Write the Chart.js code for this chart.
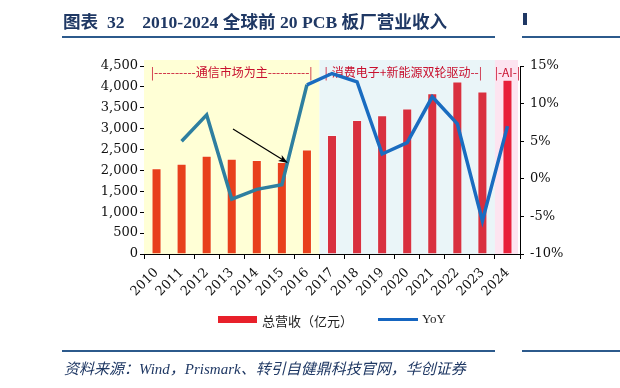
<!DOCTYPE html>
<html>
<head>
<meta charset="utf-8">
<script src="https://cdn.jsdelivr.net/npm/chart.js@4.4.1/dist/chart.umd.min.js"></script>
<style>
    body { margin: 0; background: #fff; }
    #wrap { position: relative; width: 620px; height: 388px; overflow: hidden; }
    #chart { position: absolute; left: 0; top: 0; }
    .title { position: absolute; left: 63px; top: 8px; font: bold 17.6px "Liberation Serif", "Noto Sans CJK SC", serif; color: #1F3864; white-space: pre; }
    .rule { position: absolute; height: 2px; background: #2C5A8C; }
    .source { position: absolute; left: 64px; top: 357px; font: italic 15px "Liberation Serif", "Noto Sans CJK SC", serif; color: #1F3864; white-space: pre; }
    .legend { position: absolute; top: 311px; font: 13px "Liberation Serif", "Noto Sans CJK SC", serif; color: #222; }
    .swatch { position: absolute; }
</style>
</head>
<body>
<div id="wrap">
    <canvas id="chart" width="620" height="388"></canvas>
    <div class="title">图表  32    2010-2024 全球前 20 PCB 板厂营业收入</div>
    <div class="rule" style="left:62px; top:36px; width:433px;"></div>
    <div class="rule" style="left:522px; top:36px; width:98px;"></div>
    <div class="rule" style="left:523px; top:13px; width:4px; height:12px; background:#1F3864;"></div>
    <div class="rule" style="left:62px; top:350px; width:433px;"></div>
    <div class="rule" style="left:522px; top:350px; width:98px;"></div>
    <div class="source">资料来源：Wind，Prismark、转引自健鼎科技官网，华创证券</div>
    <div class="swatch" style="left:218px; top:316px; width:39px; height:7px; background:#E8202A;"></div>
    <div class="legend" style="left:262px;">总营收（亿元）</div>
    <div class="swatch" style="left:378px; top:318px; width:40px; height:3px; background:#1565C0;"></div>
    <div class="legend" style="left:422px;">YoY</div>
</div>
<script>
const years = ['2010', '2011', '2012', '2013', '2014', '2015', '2016', '2017', '2018', '2019', '2020', '2021', '2022', '2023', '2024'];
const revenue = [2050, 2160, 2350, 2280, 2250, 2200, 2500, 2850, 3210, 3320, 3480, 3850, 4130, 3890, 4170];
const yoy = [null, 5.0, 8.5, -2.7, -1.4, -0.8, 12.5, 14.0, 12.9, 3.3, 4.8, 10.9, 7.3, -5.6, 7.0];

// phase bands: first and last category index, label, colours
const phaseLabels = ['|----------通信市场为主----------|', '|-消费电子+新能源双轮驱动--|', '|-AI-|'];
const phaseFrom = [0, 7, 14];
const phaseTo = [6, 13, 14];
const phaseFills = ['#FFFFD6', '#EAF5F8', '#FDE4F0'];
const phaseBars = ['#E8401C', '#D9303F', '#E8203A'];

// arrow annotation in data units: [category index, revenue]
const arrowFrom = [3.05, 2990];
const arrowTo = [5.24, 2180];

const barColors = years.map((y, i) => {
    let c = phaseBars[0];
    phaseFrom.forEach((f, k) => { if (i >= f && i <= phaseTo[k]) c = phaseBars[k]; });
    return c;
});

const serif = '"DejaVu Serif", "Liberation Serif", serif';

const phasePlugin = {
    id: 'phases',
    beforeDatasetsDraw(chart) {
        const ctx = chart.ctx;
        const x = chart.scales.x;
        const area = chart.chartArea;
        const step = x.width / years.length;
        ctx.save();
        phaseLabels.forEach((label, k) => {
            const left = x.getPixelForValue(phaseFrom[k]) - step / 2;
            const right = x.getPixelForValue(phaseTo[k]) + step / 2;
            ctx.fillStyle = phaseFills[k];
            ctx.fillRect(left, area.top - 6, right - left - (k === 2 ? 2 : 0), area.bottom - area.top + 6);
            ctx.fillStyle = '#C8102E';
            ctx.font = '12px "Noto Sans CJK SC", sans-serif';
            ctx.textAlign = 'center';
            ctx.textBaseline = 'middle';
            ctx.fillText(label, (left + right) / 2 - (k === 1 ? 4 : 0), area.top + 6);
        });
        ctx.restore();
    },
    afterDatasetsDraw(chart) {
        const ctx = chart.ctx;
        const x = chart.scales.x;
        const y = chart.scales.y;
        const x0 = x.getPixelForValue(arrowFrom[0]), y0 = y.getPixelForValue(arrowFrom[1]);
        const x1 = x.getPixelForValue(arrowTo[0]), y1 = y.getPixelForValue(arrowTo[1]);
        const ang = Math.atan2(y1 - y0, x1 - x0);
        ctx.save();
        ctx.strokeStyle = '#000';
        ctx.fillStyle = '#000';
        ctx.lineWidth = 1.2;
        ctx.beginPath();
        ctx.moveTo(x0, y0);
        ctx.lineTo(x1 - 6 * Math.cos(ang), y1 - 6 * Math.sin(ang));
        ctx.stroke();
        ctx.beginPath();
        ctx.moveTo(x1, y1);
        ctx.lineTo(x1 - 10 * Math.cos(ang - 0.35), y1 - 10 * Math.sin(ang - 0.35));
        ctx.lineTo(x1 - 7 * Math.cos(ang), y1 - 7 * Math.sin(ang));
        ctx.lineTo(x1 - 10 * Math.cos(ang + 0.35), y1 - 10 * Math.sin(ang + 0.35));
        ctx.closePath();
        ctx.fill();
        ctx.restore();
    }
};

new Chart(document.getElementById('chart'), {
    type: 'bar',
    data: {
        labels: years,
        datasets: [{
            type: 'line',
            label: 'YoY',
            data: yoy,
            yAxisID: 'y1',
            borderColor: '#1A6CC0',
            borderWidth: 3.5,
            pointRadius: 0,
            tension: 0,
            spanGaps: false,
            order: 0,
            segment: {
                borderColor: c => c.p1DataIndex <= phaseTo[0] ? '#2E7FA0' : '#1A6CC0'
            }
        }, {
            label: '总营收（亿元）',
            data: revenue,
            yAxisID: 'y',
            backgroundColor: barColors,
            borderColor: 'rgba(255,255,255,0.35)',
            borderWidth: 1,
            categoryPercentage: 1,
            barPercentage: 0.4,
            order: 1
        }]
    },
    options: {
        responsive: false,
        animation: false,
        layout: { padding: { left: 0, right: 0, top: 66, bottom: 0 } },
        plugins: {
            legend: { display: false },
            tooltip: { enabled: false }
        },
        scales: {
            x: {
                grid: { display: true, drawOnChartArea: false, offset: true, color: '#000', tickLength: 5 },
                border: { color: '#000', width: 1 },
                ticks: { color: '#111', font: { family: serif, size: 13 }, minRotation: 45, maxRotation: 45, autoSkip: false, padding: 6 },
                afterFit: s => { s.height = 134; }
            },
            y: {
                position: 'left',
                min: 0,
                max: 4500,
                grid: { drawOnChartArea: false, color: '#000', tickLength: 4 },
                border: { color: '#000', width: 1 },
                ticks: {
                    stepSize: 500,
                    color: '#111',
                    padding: 2,
                    font: { family: serif, size: 13 },
                    callback: v => v.toLocaleString('en-US')
                },
                afterFit: s => { s.width = 144; }
            },
            y1: {
                position: 'right',
                min: -10,
                max: 15,
                grid: { drawOnChartArea: false, color: '#000', tickLength: 4 },
                border: { color: '#000', width: 1 },
                ticks: {
                    stepSize: 5,
                    color: '#111',
                    padding: 6,
                    font: { family: serif, size: 13 },
                    callback: v => v + '%'
                },
                afterFit: s => { s.width = 100; }
            }
        }
    },
    plugins: [phasePlugin]
});
</script>
</body>
</html>
